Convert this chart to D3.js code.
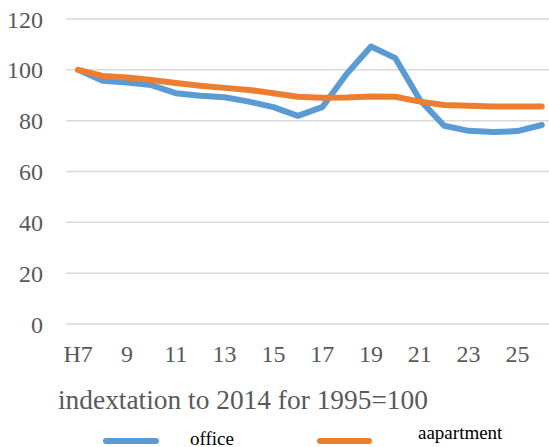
<!DOCTYPE html>
<html>
<head>
<meta charset="utf-8">
<script src="https://cdn.jsdelivr.net/npm/d3@7"></script>
<style>
  body { margin: 0; background: #fff; }
  svg { display: block; }
</style>
</head>
<body>
<svg id="chart" width="549" height="447"></svg>
<script>
// years in Heisei era, H7 (1995) .. H26 (2014)
const years = d3.range(7, 27);
const yearLabels = years.map(y => y === 7 ? "H7" : (y % 2 === 1 ? String(y) : ""));
const office = [100, 95.7, 95, 94, 90.8, 89.8, 89.2, 87.5, 85.3, 81.9, 85.3, 98.4, 109.2, 104.6, 88.2, 78, 76, 75.5, 75.9, 78.3];
const apartment = [100, 97.6, 97, 96, 94.8, 93.7, 92.9, 92.1, 90.8, 89.4, 89, 89.1, 89.5, 89.4, 87.5, 86.2, 85.9, 85.6, 85.6, 85.6];
const yTicks = [0, 20, 40, 60, 80, 100, 120];
const seriesNames = ["office", "aapartment"];
const colors = ["#5B9BD5", "#ED7D31"];

const serif = "'Liberation Serif', 'DejaVu Serif', 'Times New Roman', serif";
const svg = d3.select("#chart").attr("font-family", serif);
const plotLeft = 66, plotRight = 554, plotTop = 19, plotBottom = 324;

const x = d3.scaleBand()
    .domain(years)
    .range([plotLeft, plotRight]);

const y = d3.scaleLinear()
    .domain([0, 120])
    .range([plotBottom, plotTop]);

// grid lines
svg.append("g")
    .selectAll("line")
    .data(yTicks)
    .enter()
    .append("line")
    .attr("x1", plotLeft)
    .attr("x2", 549)
    .attr("y1", d => y(d))
    .attr("y2", d => y(d))
    .attr("stroke", "#d9d9d9")
    .attr("stroke-width", 1.5);

// y labels
svg.append("g")
    .selectAll("text")
    .data(yTicks)
    .enter()
    .append("text")
    .attr("x", 43)
    .attr("y", d => y(d) + 8.5)
    .attr("text-anchor", "end")
    .attr("font-family", serif)
    .attr("font-size", 24)
    .attr("fill", "#595959")
    .text(d => d);

// x labels
svg.append("g")
    .selectAll("text")
    .data(years)
    .enter()
    .append("text")
    .attr("x", d => x(d) + x.bandwidth() / 2)
    .attr("y", 362)
    .attr("text-anchor", "middle")
    .attr("font-family", serif)
    .attr("font-size", 24)
    .attr("fill", "#595959")
    .text((d, i) => yearLabels[i]);

// lines
let line = d3.line()
    .x((d, i) => x(years[i]) + x.bandwidth() / 2)
    .y(d => y(d));

[office, apartment].forEach((s, k) => {
    svg.append("path")
        .datum(s)
        .attr("d", line)
        .attr("fill", "none")
        .attr("stroke", colors[k])
        .attr("stroke-width", 6)
        .attr("stroke-linejoin", "round")
        .attr("stroke-linecap", "round");
});

// caption
svg.append("text")
    .attr("x", 58)
    .attr("y", 409)
    .attr("font-family", serif)
    .attr("font-size", 27.4)
    .attr("fill", "#595959")
    .text("indextation to 2014 for 1995=100");

// legend
const legend = [
    {x1: 106, x2: 156, tx: 190, ty: 445},
    {x1: 320, x2: 369, tx: 418, ty: 439}
];
legend.forEach((l, k) => {
    svg.append("line")
        .attr("x1", l.x1).attr("x2", l.x2)
        .attr("y1", 441).attr("y2", 441)
        .attr("stroke", colors[k])
        .attr("stroke-width", 6)
        .attr("stroke-linecap", "round");
    svg.append("text")
        .attr("x", l.tx)
        .attr("y", l.ty)
        .attr("font-family", serif)
        .attr("font-size", 19)
        .attr("fill", "#000")
        .text(seriesNames[k]);
});
</script>
</body>
</html>
